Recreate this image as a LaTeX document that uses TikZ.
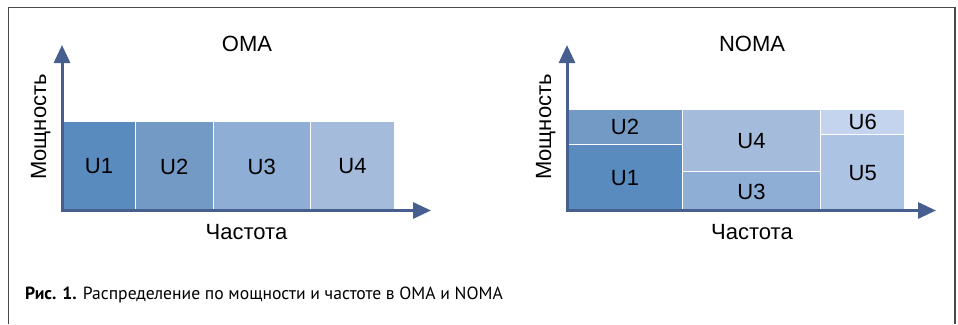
\documentclass[tikz,border=0pt]{standalone}
\usepackage{fontspec}
\setmainfont{Liberation Sans}
\newfontfamily\capfont{PT Sans}
\usetikzlibrary{arrows.meta}

\definecolor{axisblue}{HTML}{465F8E}
\definecolor{frameGray}{HTML}{4A4A4A}
\definecolor{uone}{HTML}{5A8BBF}
\definecolor{utwo}{HTML}{7399C5}
\definecolor{uthree}{HTML}{8EAED5}
\definecolor{ufour}{HTML}{A5BBDB}
\definecolor{ufive}{HTML}{ADC3E4}
\definecolor{usix}{HTML}{C4D4EE}

\begin{document}
\begin{tikzpicture}[
    x=1pt, y=-1pt,
    cell/.style={rectangle, anchor=north west, draw=white, line width=1.4pt, inner sep=0pt, font=\fontsize{22}{26}\selectfont},
    axis/.style={-{Triangle[length=18pt,width=16pt]}, line width=3pt, draw=axisblue},
    lbl/.style={font=\fontsize{22}{26}\selectfont, inner sep=0pt, anchor=base},
    captext/.style={font=\capfont\fontsize{17.6}{21}\selectfont, inner sep=0pt, anchor=base west}
]
\useasboundingbox (0,0) rectangle (958,324);

% Frame (open at the bottom)
\draw[frameGray, line width=1.6pt] (8.5,324) -- (8.5,7.5) -- (955,7.5) -- (955,324);

% === OMA ===
\node[cell, fill=uone,   minimum width=72.5pt, minimum height=89.5pt] (oma1) at (62,121)    {U1};
\node[cell, fill=utwo,   minimum width=78pt,   minimum height=89.5pt] (oma2) at (134.5,121) {U2};
\node[cell, fill=uthree, minimum width=97pt,   minimum height=89.5pt] (oma3) at (212.5,121) {U3};
\node[cell, fill=ufour,  minimum width=84.5pt, minimum height=89.5pt] (oma4) at (309.5,121) {U4};

\coordinate (omaO) at (62,210.5);
\coordinate (omaY) at (62,45);
\coordinate (omaX) at (431,210.5);
\draw[axis] ([yshift=-1.5pt]omaO) -- (omaY);
\draw[axis] ([xshift=-1.5pt]omaO) -- (omaX);

\node[lbl] (omaTitle) at (247,51) {OMA};
\node[lbl] (omaFreq) at (246.5,239) {Частота};
\node[lbl, rotate=90] (omaPow) at (46,127) {Мощность};

% === NOMA ===
\node[cell, fill=utwo,   minimum width=114.5pt, minimum height=35pt]   (noma2) at (567,109)   {U2};
\node[cell, fill=uone,   minimum width=114.5pt, minimum height=66.5pt] (noma1) at (567,144)   {U1};
\node[cell, fill=ufour,  minimum width=138.5pt, minimum height=62pt]   (noma4) at (681.5,109) {U4};
\node[cell, fill=uthree, minimum width=138.5pt, minimum height=39.5pt] (noma3) at (681.5,171) {U3};
\node[cell, fill=usix,   minimum width=84pt,    minimum height=24.5pt] (noma6) at (820,109)   {U6};
\node[cell, fill=ufive,  minimum width=84pt,    minimum height=77pt]   (noma5) at (820,133.5) {U5};

\coordinate (nomaO) at (567,210.5);
\coordinate (nomaY) at (567,45);
\coordinate (nomaX) at (936,210.5);
\draw[axis] ([yshift=-1.5pt]nomaO) -- (nomaY);
\draw[axis] ([xshift=-1.5pt]nomaO) -- (nomaX);

\node[lbl] (nomaTitle) at (752,51) {NOMA};
\node[lbl] (nomaFreq) at (752,239) {Частота};
\node[lbl, rotate=90] (nomaPow) at (551,127) {Мощность};

% Caption
\node[captext] (caption) at (25,299) {\textbf{Рис. 1.} Распределение по мощности и частоте в OMA и NOMA};
\end{tikzpicture}
\end{document}
